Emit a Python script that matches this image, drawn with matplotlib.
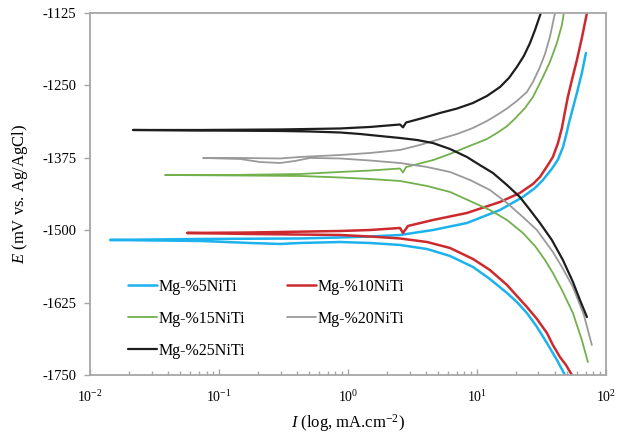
import matplotlib
matplotlib.use("Agg")
import matplotlib.pyplot as plt
from matplotlib.ticker import LogLocator, FixedLocator, NullFormatter

plt.rcParams['font.family'] = ['Liberation Serif', 'DejaVu Serif']
plt.rcParams['mathtext.fontset'] = 'custom'
plt.rcParams['mathtext.rm'] = 'Liberation Serif'
plt.rcParams['mathtext.it'] = 'Liberation Serif:italic'
plt.rcParams['axes.unicode_minus'] = False

# polarization curves: cathodic end -> Ecorr -> anodic end
labels = ["Mg-%5NiTi", "Mg-%10NiTi", "Mg-%15NiTi", "Mg-%20NiTi", "Mg-%25NiTi"]
colors = ["#1cb2ee", "#cc2a2f", "#72b04c", "#9a9a9a", "#1e1e1e"]
widths = [1.8, 1.8, 1.3, 1.3, 1.6]

i_5 = [48.1, 41.7, 34.9, 29.2, 24.4, 20.4, 17.1, 12.6, 9.31, 6.18, 4.10, 2.53, 1.48, 0.867, 0.425, 0.297,
       0.174, 0.0712, 0.0143,
       0.0712, 0.425, 0.867, 1.48, 2.53, 4.56, 8.36, 15.1, 22.7, 28.2, 32.5, 38.1, 42.5, 46.4, 49.0, 51.7,
       55.5, 59.6, 65.1, 70.0]
e_5 = [-1750, -1724.1, -1694.8, -1667.1, -1643, -1624, -1608.4, -1584.3, -1563.5, -1544.5, -1532.5,
       -1525.5, -1522.1, -1520.4, -1522.1, -1523.8, -1522.1, -1518.6, -1516.9,
       -1515.2, -1514.3, -1512.6, -1510.9, -1508.3, -1499.7, -1487.6, -1465.1, -1442.7, -1427.1,
       -1413.3, -1394, -1378, -1357, -1337, -1314.9, -1289, -1263.1, -1228.6, -1194.1]

i_10 = [54.5, 49.0, 44.0, 38.8, 34.9, 29.2, 24.4, 20.4, 17.1, 12.6, 9.31, 6.18, 4.10, 2.53, 1.48, 0.867,
        0.174, 0.0565,
        0.174, 0.867, 1.48, 2.53, 2.67, 2.92, 4.56, 8.36, 15.1, 21.5, 27.2, 30.8, 35.5, 38.8, 42.5,
        45.6, 48.1, 50.7, 54.5, 59.6, 65.1, 71.3]
e_10 = [-1750, -1732.7, -1718.9, -1698.2, -1677.5, -1653.3, -1632.6, -1613.6, -1594.6, -1568.7, -1549.7,
        -1530.7, -1520.4, -1514.3, -1510.9, -1508.3, -1506.6, -1504.8,
        -1504, -1501.4, -1499.7, -1496.2, -1504.8, -1492.7, -1482.4, -1470.3, -1451.3, -1435.8, -1420.2,
        -1408.2, -1387.4, -1373.6, -1349.5, -1323.5, -1295.9, -1270, -1240.7, -1206.1, -1168.2, -1125]

i_15 = [72.5, 65.1, 55.5, 45.6, 38.8, 33.7, 28.2, 22.7, 17.1, 12.6, 8.83, 6.18, 4.10, 2.53, 1.48, 0.867,
        0.425, 0.122, 0.0381,
        0.122, 0.425, 0.867, 1.48, 2.53, 2.67, 2.82, 4.56, 6.18, 8.36, 11.95, 14.3, 17.1, 19.7, 23.6,
        27.2, 32.5, 36.8, 41.7, 45.6, 47.2]
e_15 = [-1727.6, -1689.6, -1643, -1603.2, -1573.9, -1551.5, -1527.3, -1504.8, -1482.4, -1465.1, -1449.6,
        -1434, -1423.7, -1415, -1411.6, -1409, -1406.4, -1405.5, -1404.7,
        -1404.7, -1403, -1399.5, -1397, -1393.5, -1400.4, -1391, -1379, -1368.4, -1356.4, -1342.6,
        -1332.2, -1320.5, -1307.5, -1289, -1270, -1235.5, -1209.6, -1176.8, -1145.7, -1125]

i_20 = [77.8, 67.5, 55.5, 45.6, 38.8, 29.2, 22.7, 17.1, 12.6, 8.83, 6.18, 4.10, 2.53, 1.48, 0.867,
        0.507, 0.388, 0.297, 0.208, 0.146, 0.0752,
        0.146, 0.297, 0.425, 0.867, 1.48, 2.53, 3.61, 5.16, 7.00, 9.31, 11.95, 14.3, 17.1, 20.4, 24.4,
        27.2, 30.8, 33.7, 36.8, 40.3]
e_20 = [-1698.2, -1646.4, -1598.1, -1563.5, -1537.6, -1499.7, -1477.2, -1453, -1430.6, -1413.3, -1399.5,
        -1390.9, -1384, -1379.7, -1376.2, -1375.3, -1380.5, -1384, -1382.3, -1377.1, -1375.3,
        -1375.3, -1376.2, -1373.6, -1370.2, -1366.7, -1361.5, -1352.9, -1342.6, -1334, -1323.5,
        -1311.5, -1301.1, -1289.9, -1276.9, -1261.4, -1244.1, -1218.2, -1195.8, -1166.4, -1125]

i_25 = [71.3, 62.9, 55.5, 46.4, 38.1, 30.8, 25.8, 21.5, 17.1, 13.3, 10.5, 8.36, 6.18, 4.56, 3.43, 2.53,
        1.771, 1.239, 0.867, 0.507, 0.297, 0.0712, 0.0215,
        0.0712, 0.297, 0.867, 1.48, 2.53, 2.67, 2.82, 3.81, 5.16, 7.00, 9.31, 11.95, 15.1, 17.7, 20.4,
        23.1, 25.8, 28.2, 31.3]
e_25 = [-1650, -1620.5, -1589.4, -1551.5, -1516.9, -1487.6, -1465.1, -1442.7, -1422, -1401.2, -1387.4,
        -1373.6, -1359.8, -1349.5, -1344.3, -1340.8, -1337.4, -1333.9, -1331.3, -1329.6, -1328.7,
        -1327.9, -1327,
        -1327, -1326.1, -1324.4, -1321.8, -1317.5, -1322.5, -1314.1, -1306.3, -1297.7, -1290, -1280.4,
        -1268.3, -1252.8, -1237.2, -1218.2, -1199.2, -1176.8, -1154.4, -1125]

currents = [i_5, i_10, i_15, i_20, i_25]
potentials = [e_5, e_10, e_15, e_20, e_25]
y_ticks = [-1750, -1625, -1500, -1375, -1250, -1125]

fig = plt.figure(figsize=(6.17, 4.33), dpi=100)
ax = fig.add_axes([0.146, 0.134, 0.836, 0.836])

lines = []
for i_vals, e_vals, lab, col, lw in zip(currents, potentials, labels, colors, widths):
    ln, = ax.plot(i_vals, e_vals, color=col, lw=lw, label=lab,
                  solid_joinstyle='round', solid_capstyle='round')
    lines.append(ln)

ax.set_xscale('log')
ax.set_xlim(0.01, 100)
ax.set_ylim(-1750, -1125)
ax.yaxis.set_major_locator(FixedLocator(y_ticks))
ax.xaxis.set_major_locator(LogLocator(base=10, numticks=10))
ax.xaxis.set_minor_locator(LogLocator(base=10, subs=range(2, 10), numticks=10))
ax.xaxis.set_minor_formatter(NullFormatter())

for sp in ax.spines.values():
    sp.set_color('#a6a6a6')
    sp.set_linewidth(1.3)

ax.tick_params(axis='y', direction='out', length=4, width=1, color='#a6a6a6', labelsize=10.5, pad=6)
ax.tick_params(axis='x', which='major', direction='in', length=4, width=1, color='#a6a6a6',
               labelsize=10, pad=10)
ax.tick_params(axis='x', which='minor', direction='in', length=3, width=1, color='#a6a6a6')

ax.set_xlabel(r"$\mathit{I}$ (log, mA.cm$^{-2}$)", fontsize=12, labelpad=5)
ax.set_ylabel(r"$\mathit{E}$ (mV vs. Ag/AgCl)", fontsize=12, labelpad=9)

# row-wise legend order: 5 | 10, 15 | 20, 25
order = [0, 2, 4, 1, 3]
ax.legend([lines[k] for k in order], [labels[k] for k in order], ncol=2, frameon=False,
          loc='lower left', bbox_to_anchor=(0.074, 0.045), borderaxespad=0, borderpad=0,
          fontsize=11.5, handlelength=1.8, handletextpad=0.1, columnspacing=2.6, labelspacing=1.0)

fig.savefig("out.png", dpi=100)
